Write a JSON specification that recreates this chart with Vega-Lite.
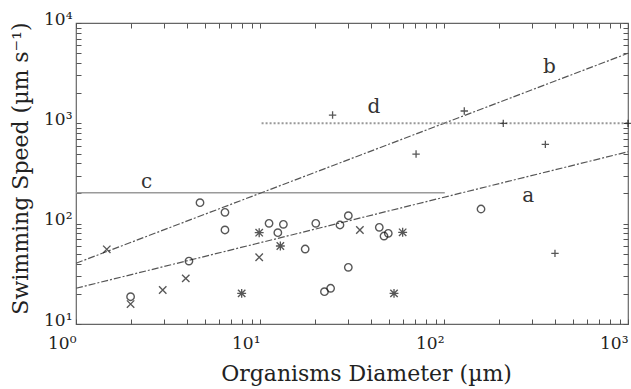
{
  "$schema": "https://vega.github.io/schema/vega-lite/v6.json",
  "width": 552,
  "height": 301,
  "autosize": "none",
  "padding": {"left": 76, "top": 23, "right": 3, "bottom": 65},
  "background": "white",
  "config": {"view": {"stroke": "#666", "strokeWidth": 1.2}, "font": "DejaVu Serif"},
  "datasets": {
    "points": [
      {"d": 1.47, "v": 55.5, "t": "x"},
      {"d": 1.98, "v": 15.8, "t": "x"},
      {"d": 2.96, "v": 21.8, "t": "x"},
      {"d": 3.95, "v": 28.5, "t": "x"},
      {"d": 9.9, "v": 46.2, "t": "x"},
      {"d": 34.9, "v": 86.5, "t": "x"},
      {"d": 1.98, "v": 18.7, "t": "o"},
      {"d": 4.11, "v": 42.4, "t": "o"},
      {"d": 4.72, "v": 161.8, "t": "o"},
      {"d": 6.45, "v": 129.7, "t": "o"},
      {"d": 6.45, "v": 86.5, "t": "o"},
      {"d": 11.2, "v": 100.7, "t": "o"},
      {"d": 12.5, "v": 81.3, "t": "o"},
      {"d": 13.4, "v": 98.5, "t": "o"},
      {"d": 17.6, "v": 55.9, "t": "o"},
      {"d": 20.1, "v": 100.7, "t": "o"},
      {"d": 27.2, "v": 97, "t": "o"},
      {"d": 30.2, "v": 120, "t": "o"},
      {"d": 30.2, "v": 36.7, "t": "o"},
      {"d": 22.4, "v": 21, "t": "o"},
      {"d": 24.2, "v": 22.7, "t": "o"},
      {"d": 44.5, "v": 91.9, "t": "o"},
      {"d": 47.2, "v": 75.3, "t": "o"},
      {"d": 49.8, "v": 80.1, "t": "o"},
      {"d": 158.9, "v": 140, "t": "o"},
      {"d": 7.95, "v": 20.2, "t": "*"},
      {"d": 9.9, "v": 81.3, "t": "*"},
      {"d": 12.9, "v": 59.9, "t": "*"},
      {"d": 53.5, "v": 20.2, "t": "*"},
      {"d": 59.6, "v": 82, "t": "*"},
      {"d": 24.8, "v": 1210, "t": "+"},
      {"d": 70.5, "v": 494, "t": "+"},
      {"d": 128.9, "v": 1327, "t": "+"},
      {"d": 210, "v": 1000, "t": "+"},
      {"d": 355.5, "v": 617, "t": "+"},
      {"d": 401, "v": 50.6, "t": "+"},
      {"d": 1000, "v": 1000, "t": "+"}
    ],
    "lines": [
      {"line": "a", "d": 1, "v": 22.7},
      {"line": "a", "d": 1000, "v": 521},
      {"line": "b", "d": 1, "v": 40.3},
      {"line": "b", "d": 1000, "v": 4990},
      {"line": "c", "d": 1, "v": 203},
      {"line": "c", "d": 101, "v": 203},
      {"line": "d", "d": 10.2, "v": 1000},
      {"line": "d", "d": 1000, "v": 1000}
    ],
    "labels": [
      {"label": "a", "d": 287, "v": 189},
      {"label": "b", "d": 373.6, "v": 3664},
      {"label": "c", "d": 2.42, "v": 262},
      {"label": "d", "d": 41.6, "v": 1443}
    ]
  },
  "resolve": {"axis": {"x": "independent", "y": "independent"}},
  "layer": [
    {
      "data": {"name": "lines"},
      "transform": [{"filter": "datum.line == 'c'"}],
      "mark": {"type": "line", "color": "#9a9a9a", "strokeWidth": 1.6},
      "encoding": {
        "x": {"field": "d", "type": "quantitative", "scale": {"type": "log", "domain": [1, 1000], "nice": false},
          "axis": {"orient": "bottom", "values": [1, 10, 100, 1000],
            "ticks": false, "domain": false, "grid": false, "labelOverlap": false, "labelFlush": false,
            "labelExpr": "'10' + ['⁰','¹','²','³','⁴'][round(log(datum.value)/LN10)]",
            "labelAlign": "right", "labelBaseline": "alphabetic", "labelPadding": 24, "labelFontSize": 17, "labelColor": "#222", "labelFont": "DejaVu Serif",
            "title": "Organisms Diameter (µm)", "titleFont": "DejaVu Serif", "titleFontSize": 22, "titleFontWeight": "normal", "titleColor": "#222",
            "titleX": 290, "titleY": 56, "titleBaseline": "alphabetic", "titleAlign": "center"}},
        "y": {"field": "v", "type": "quantitative", "scale": {"type": "log", "domain": [10, 10000], "nice": false},
          "axis": {"orient": "left", "values": [10, 100, 1000, 10000],
            "ticks": false, "domain": false, "grid": false, "labelOverlap": false, "labelFlush": false,
            "labelExpr": "'10' + ['⁰','¹','²','³','⁴'][round(log(datum.value)/LN10)]",
            "labelAlign": "right", "labelBaseline": "alphabetic", "labelPadding": 4, "labelOffset": 1, "labelFontSize": 17, "labelColor": "#222", "labelFont": "DejaVu Serif",
            "title": "Swimming Speed (µm s⁻¹)", "titleFont": "DejaVu Serif", "titleFontSize": 22, "titleFontWeight": "normal", "titleColor": "#222",
            "titleX": -56, "titleY": 145, "titleBaseline": "middle", "titleAlign": "center", "titleAngle": -90}}
      }
    },
    {
      "data": {"name": "lines"},
      "transform": [{"filter": "datum.line == 'a' || datum.line == 'b'"}],
      "mark": {"type": "line", "color": "#555", "strokeWidth": 1.2, "strokeDash": [7, 2, 2, 2]},
      "encoding": {
        "x": {"field": "d", "type": "quantitative", "scale": {"type": "log", "domain": [1, 1000], "nice": false},
          "axis": {"orient": "top", "values": [1,2,3,4,5,6,7,8,9,10,20,30,40,50,60,70,80,90,100,200,300,400,500,600,700,800,900,1000],
            "tickSize": -5, "tickColor": "#555", "domain": false, "grid": false, "labels": false, "title": null}},
        "y": {"field": "v", "type": "quantitative", "scale": {"type": "log", "domain": [10, 10000], "nice": false},
          "axis": {"orient": "right", "values": [10,20,30,40,50,60,70,80,90,100,200,300,400,500,600,700,800,900,1000,2000,3000,4000,5000,6000,7000,8000,9000,10000],
            "tickSize": -5, "tickColor": "#555", "domain": false, "grid": false, "labels": false, "title": null}},
        "detail": {"field": "line"}
      }
    },
    {
      "data": {"name": "lines"},
      "transform": [{"filter": "datum.line == 'd'"}],
      "mark": {"type": "line", "color": "#999", "strokeWidth": 2, "strokeDash": [2, 2]},
      "encoding": {
        "x": {"field": "d", "type": "quantitative", "scale": {"type": "log", "domain": [1, 1000], "nice": false},
          "axis": {"orient": "bottom", "values": [1,2,3,4,5,6,7,8,9,10,20,30,40,50,60,70,80,90,100,200,300,400,500,600,700,800,900,1000],
            "tickSize": -5, "tickColor": "#555", "domain": false, "grid": false, "labels": false, "title": null}},
        "y": {"field": "v", "type": "quantitative", "scale": {"type": "log", "domain": [10, 10000], "nice": false},
          "axis": {"orient": "left", "values": [10,20,30,40,50,60,70,80,90,100,200,300,400,500,600,700,800,900,1000,2000,3000,4000,5000,6000,7000,8000,9000,10000],
            "tickSize": -5, "tickColor": "#555", "domain": false, "grid": false, "labels": false, "title": null}}
      }
    },
    {
      "data": {"name": "points"},
      "mark": {"type": "point", "filled": false, "stroke": "#111", "strokeWidth": 1.5, "clip": false},
      "encoding": {
        "x": {"field": "d", "type": "quantitative", "scale": {"type": "log", "domain": [1, 1000], "nice": false}, "axis": null},
        "y": {"field": "v", "type": "quantitative", "scale": {"type": "log", "domain": [10, 10000], "nice": false}, "axis": null},
        "shape": {"field": "t", "type": "nominal", "legend": null,
          "scale": {"domain": ["o", "x", "*", "+"],
            "range": ["circle", "M-1,-1L1,1M-1,1L1,-1", "M-1,-1L1,1M-1,1L1,-1M-1.2,0L1.2,0M0,-1.2L0,1.2", "M-1,0L1,0M0,-1L0,1"]}},
        "size": {"field": "t", "type": "nominal", "legend": null,
          "scale": {"domain": ["o", "x", "*", "+"], "range": [55, 55, 50, 70]}},
        "strokeWidth": {"field": "t", "type": "nominal", "legend": null,
          "scale": {"domain": ["o", "x", "*", "+"], "range": [1.4, 1.3, 2.2, 1.5]}}
      }
    },
    {
      "data": {"name": "labels"},
      "mark": {"type": "text", "fontSize": 20, "font": "DejaVu Serif", "color": "#333", "align": "center", "baseline": "middle"},
      "encoding": {
        "x": {"field": "d", "type": "quantitative", "scale": {"type": "log", "domain": [1, 1000], "nice": false}, "axis": null},
        "y": {"field": "v", "type": "quantitative", "scale": {"type": "log", "domain": [10, 10000], "nice": false}, "axis": null},
        "text": {"field": "label"}
      }
    }
  ]
}
